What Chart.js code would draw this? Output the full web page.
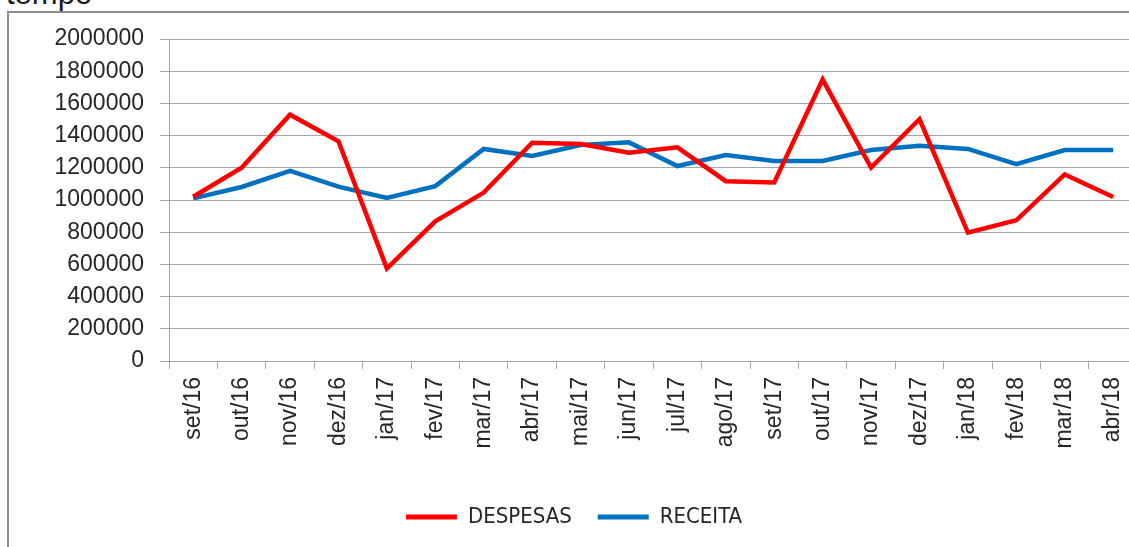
<!DOCTYPE html>
<html>
  <head>
    <meta charset="utf-8">
    <title>Despesas x Receita</title>
    <script src="https://cdn.jsdelivr.net/npm/chart.js@4.4.1/dist/chart.umd.min.js"></script>
    <style>
      html, body {
        margin: 0;
        padding: 0;
        background: #ffffff;
        overflow: hidden;
        width: 1129px;
        height: 547px;
      }
      #titulo {
        position: absolute;
        left: 6px;
        top: -22px;
        font-family: 'Liberation Sans', Arial, sans-serif;
        font-size: 31px;
        line-height: 31px;
        color: #1a1a1a;
        white-space: nowrap;
      }
      #caixa {
        position: absolute;
        left: 7px;
        top: 11px;
        width: 1140px;
        height: 560px;
        border: 2px solid #8c8c8c;
      }
    </style>
  </head>
  <body>
    <div id="titulo">tempo</div>
    <div id="caixa"><canvas id="grafico"></canvas></div>

    <script>
      // meses
      var meses = ['set/16', 'out/16', 'nov/16', 'dez/16', 'jan/17', 'fev/17', 'mar/17', 'abr/17',
        'mai/17', 'jun/17', 'jul/17', 'ago/17', 'set/17', 'out/17', 'nov/17', 'dez/17',
        'jan/18', 'fev/18', 'mar/18', 'abr/18'];

      var despesas = [1020000, 1200000, 1530000, 1365000, 575000, 867000, 1046000, 1356000,
        1348000, 1294000, 1327000, 1117000, 1109000, 1748000, 1202000, 1502000,
        797000, 874000, 1159000, 1019000];

      var receita = [1010000, 1081000, 1181000, 1083000, 1013000, 1086000, 1317000, 1273000,
        1342000, 1358000, 1211000, 1279000, 1242000, 1242000, 1310000, 1337000,
        1317000, 1223000, 1310000, 1310000];

      var yMin = 0;
      var yMax = 2000000;
      var yStep = 200000;

      var corTexto = '#262626';
      var corGrade = '#a6a6a6';

      var ctx = document.getElementById('grafico').getContext('2d');
      var myChart = new Chart(ctx, {
        type: 'line',
        data: {
          labels: meses,
          datasets: [
            {
              label: 'DESPESAS',
              data: despesas,
              borderColor: '#ff0000',
              backgroundColor: '#ff0000',
              borderWidth: 4.5,
              pointRadius: 0,
              tension: 0
            },
            {
              label: 'RECEITA',
              data: receita,
              borderColor: '#0070c0',
              backgroundColor: '#0070c0',
              borderWidth: 4.5,
              pointRadius: 0,
              tension: 0
            }
          ]
        },
        options: {
          responsive: true,
          maintainAspectRatio: false,
          animation: false,
          layout: {
            padding: { left: 0, right: 10, top: 26, bottom: 35 }
          },
          scales: {
            x: {
              offset: true,
              grid: {
                offset: true,
                drawOnChartArea: false,
                drawTicks: true,
                tickLength: 8,
                color: corGrade
              },
              border: { color: corGrade },
              ticks: {
                minRotation: 90,
                maxRotation: 90,
                autoSkip: false,
                padding: 8,
                color: corTexto,
                font: { family: "'Liberation Sans', Arial, sans-serif", size: 23 }
              },
              afterFit: function (scale) { scale.height = 119; }
            },
            y: {
              min: yMin,
              max: yMax,
              grid: {
                color: corGrade,
                tickLength: 9
              },
              border: { color: corGrade },
              ticks: {
                stepSize: yStep,
                padding: 16,
                color: corTexto,
                font: { family: "'Liberation Sans', Arial, sans-serif", size: 23, lineHeight: 0.8 },
                callback: function (v) { return String(v); }
              },
              afterFit: function (scale) { scale.width = 160; }
            }
          },
          plugins: {
            legend: {
              display: true,
              position: 'bottom',
              labels: {
                boxWidth: 51,
                boxHeight: 5,
                padding: 26,
                color: corTexto,
                font: { family: "'DejaVu Sans Condensed', 'Liberation Sans', Arial, sans-serif", size: 22 },
                generateLabels: function (chart) {
                  var itens = Chart.defaults.plugins.legend.labels.generateLabels(chart);
                  itens.forEach(function (it) { it.lineWidth = 0; });
                  return itens;
                }
              }
            },
            tooltip: { enabled: false }
          }
        }
      });
    </script>
  </body>
</html>
